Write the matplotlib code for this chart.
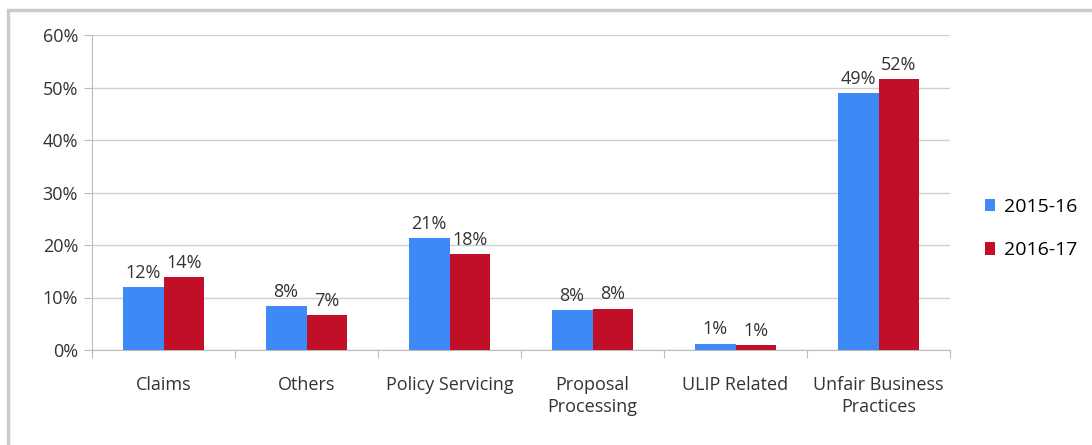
import numpy as np
from matplotlib import pyplot as plt
from matplotlib.patches import Rectangle

categories = ['Claims', 'Others', 'Policy Servicing', 'Proposal\nProcessing',
              'ULIP Related', 'Unfair Business\nPractices']
fy_2015 = [12.0, 8.3, 21.3, 7.6, 1.2, 48.9]
fy_2016 = [13.9, 6.6, 18.2, 7.9, 1.0, 51.6]
labels_2015 = ['12%', '8%', '21%', '8%', '1%', '49%']
labels_2016 = ['14%', '7%', '18%', '8%', '1%', '52%']
series_names = ['2015-16', '2016-17']

blue = '#3d8af7'
red = '#c00f26'

plt.rcParams['font.family'] = ['Open Sans', 'DejaVu Sans']

fig = plt.figure(figsize=(10.92, 4.45), dpi=100)
# outer frame of the chart object
fig.patches.append(Rectangle((8/1092, -0.1), 1.2, 1 - 10/445 + 0.1,
                             transform=fig.transFigure, fill=False,
                             edgecolor='#c8cccc', linewidth=2.5))

ax = fig.add_axes([92/1092, 1 - 350/445, (950 - 92)/1092, (350 - 35)/445])

x = np.arange(len(categories))
w = 0.285
b1 = ax.bar(x - w/2, fy_2015, w, color=blue, label=series_names[0], zorder=3)
b2 = ax.bar(x + w/2, fy_2016, w, color=red, label=series_names[1], zorder=3)

for rect, lab in zip(b1, labels_2015):
    ax.text(rect.get_x() + rect.get_width()/2, rect.get_height() + 1.0, lab,
            ha='center', va='bottom', fontsize=13, color='#333333')
for rect, lab in zip(b2, labels_2016):
    ax.text(rect.get_x() + rect.get_width()/2, rect.get_height() + 1.0, lab,
            ha='center', va='bottom', fontsize=13, color='#333333')

ax.set_xlim(-0.5, len(categories) - 0.5)
ax.set_ylim(0, 60)
ax.set_yticks(np.arange(0, 61, 10))
ax.set_yticklabels([f'{v}%' for v in range(0, 61, 10)], fontsize=13, color='#333333')
ax.yaxis.grid(True, color='#d0d0d0', linewidth=1, zorder=0)

# category labels between boundary ticks
ax.set_xticks(np.arange(-0.5, len(categories), 1))
ax.set_xticklabels([])
ax.tick_params(axis='x', length=6, color='#bbbbbb', direction='out')
ax.tick_params(axis='y', length=6, color='#bbbbbb', pad=4)
for xi, cat in zip(x, categories):
    ax.text(xi, -5.0, cat, ha='center', va='top', fontsize=13,
            color='#333333', linespacing=1.25)

for side in ['top', 'right']:
    ax.spines[side].set_visible(False)
for side in ['left', 'bottom']:
    ax.spines[side].set_color('#bbbbbb')

ax.legend(loc='center left', bbox_to_anchor=(1.02, 0.385), frameon=False,
          fontsize=14, handlelength=0.55, handleheight=0.6, handletextpad=0.45,
          labelspacing=1.3)

fig.savefig('out.png', dpi=100)
